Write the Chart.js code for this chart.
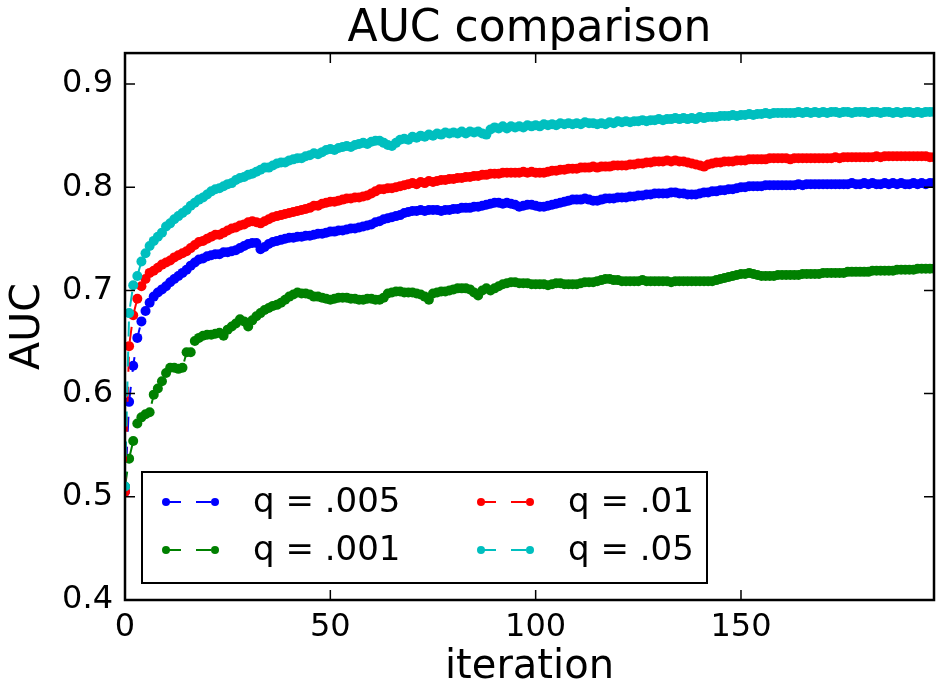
<!DOCTYPE html>
<html>
<head>
<meta charset="utf-8">
<script src="https://cdn.jsdelivr.net/npm/chart.js@4.4.1/dist/chart.umd.min.js"></script>
<style>
  html, body { margin: 0; padding: 0; background: #fff; }
  #wrap { width: 939px; height: 693px; }
</style>
</head>
<body>
<div id="wrap"><canvas id="myChart"></canvas></div>
<script>
// AUC per iteration (iterations 0..197)
var labels = ['q = .005', 'q = .001', 'q = .01', 'q = .05'];
var colors = ['#0000ff', '#008000', '#ff0000', '#00bfbf'];
var xTicks = [0, 50, 100, 150];
var yTicks = [0.4, 0.5, 0.6, 0.7, 0.8, 0.9];

var auc_005 = [
  0.505,0.592,0.627,0.654,0.670,0.680,0.688,0.694,0.698,0.701,
  0.704,0.708,0.711,0.714,0.717,0.720,0.724,0.727,0.730,0.731,
  0.733,0.734,0.735,0.735,0.737,0.737,0.738,0.739,0.741,0.743,
  0.745,0.746,0.746,0.740,0.742,0.745,0.747,0.748,0.749,0.750,
  0.751,0.751,0.752,0.752,0.753,0.753,0.754,0.755,0.755,0.756,
  0.757,0.757,0.758,0.758,0.759,0.760,0.760,0.761,0.762,0.763,
  0.764,0.766,0.767,0.769,0.770,0.771,0.772,0.773,0.775,0.776,
  0.777,0.777,0.778,0.777,0.778,0.778,0.778,0.777,0.778,0.778,
  0.779,0.779,0.780,0.780,0.780,0.781,0.781,0.782,0.783,0.784,
  0.785,0.785,0.784,0.785,0.784,0.783,0.781,0.782,0.783,0.783,
  0.782,0.781,0.781,0.782,0.783,0.784,0.785,0.786,0.787,0.788,
  0.788,0.788,0.789,0.788,0.787,0.787,0.788,0.789,0.789,0.789,
  0.790,0.790,0.790,0.791,0.791,0.792,0.792,0.793,0.793,0.794,
  0.794,0.794,0.794,0.795,0.795,0.794,0.794,0.793,0.793,0.793,
  0.794,0.795,0.795,0.796,0.796,0.797,0.797,0.798,0.798,0.799,
  0.800,0.800,0.801,0.801,0.801,0.801,0.802,0.802,0.802,0.802,
  0.802,0.802,0.802,0.802,0.803,0.802,0.803,0.803,0.803,0.803,
  0.803,0.803,0.803,0.803,0.803,0.803,0.803,0.804,0.803,0.803,
  0.804,0.803,0.804,0.803,0.803,0.804,0.803,0.804,0.803,0.804,
  0.803,0.803,0.804,0.803,0.804,0.803,0.804,0.804
];

var auc_001 = [
  0.510,0.537,0.554,0.571,0.577,0.580,0.582,0.599,0.605,0.612,
  0.620,0.625,0.625,0.624,0.625,0.640,0.640,0.651,0.654,0.656,
  0.657,0.657,0.658,0.659,0.656,0.662,0.665,0.668,0.672,0.670,
  0.665,0.671,0.675,0.678,0.681,0.683,0.685,0.686,0.688,0.691,
  0.694,0.696,0.698,0.697,0.697,0.696,0.694,0.694,0.693,0.692,
  0.691,0.692,0.693,0.693,0.693,0.692,0.692,0.691,0.691,0.692,
  0.692,0.691,0.691,0.693,0.697,0.698,0.699,0.699,0.698,0.698,
  0.698,0.697,0.696,0.694,0.691,0.697,0.698,0.699,0.699,0.700,
  0.701,0.702,0.702,0.702,0.701,0.698,0.695,0.700,0.702,0.700,
  0.702,0.704,0.706,0.707,0.708,0.708,0.707,0.707,0.707,0.706,
  0.706,0.706,0.706,0.705,0.706,0.707,0.707,0.706,0.706,0.706,
  0.706,0.707,0.708,0.708,0.708,0.709,0.710,0.711,0.711,0.710,
  0.710,0.709,0.709,0.709,0.709,0.709,0.710,0.709,0.709,0.709,
  0.709,0.709,0.709,0.708,0.709,0.709,0.709,0.709,0.709,0.709,
  0.709,0.709,0.709,0.709,0.710,0.711,0.712,0.713,0.714,0.715,
  0.716,0.716,0.717,0.716,0.715,0.714,0.714,0.714,0.714,0.715,
  0.715,0.715,0.715,0.715,0.715,0.716,0.716,0.716,0.716,0.716,
  0.717,0.717,0.717,0.717,0.717,0.717,0.718,0.718,0.718,0.718,
  0.718,0.718,0.719,0.719,0.719,0.719,0.719,0.719,0.720,0.720,
  0.720,0.720,0.720,0.721,0.721,0.721,0.721,0.721
];

var auc_01 = [
  0.505,0.646,0.676,0.692,0.704,0.711,0.717,0.719,0.722,0.725,
  0.727,0.729,0.732,0.734,0.736,0.738,0.741,0.744,0.747,0.748,
  0.750,0.752,0.754,0.754,0.756,0.758,0.760,0.761,0.763,0.764,
  0.766,0.767,0.766,0.765,0.767,0.769,0.771,0.772,0.773,0.774,
  0.775,0.776,0.777,0.778,0.779,0.780,0.782,0.782,0.784,0.785,
  0.786,0.786,0.787,0.788,0.789,0.789,0.790,0.790,0.791,0.792,
  0.794,0.796,0.798,0.798,0.799,0.799,0.800,0.801,0.802,0.803,
  0.804,0.803,0.805,0.804,0.806,0.805,0.806,0.807,0.807,0.808,
  0.808,0.809,0.809,0.810,0.810,0.811,0.811,0.812,0.812,0.813,
  0.813,0.813,0.814,0.814,0.814,0.814,0.814,0.815,0.814,0.815,
  0.814,0.814,0.814,0.815,0.816,0.816,0.817,0.817,0.818,0.818,
  0.818,0.819,0.819,0.819,0.820,0.819,0.820,0.820,0.820,0.821,
  0.821,0.821,0.821,0.822,0.822,0.823,0.823,0.824,0.824,0.825,
  0.825,0.825,0.826,0.825,0.826,0.825,0.825,0.824,0.823,0.822,
  0.821,0.820,0.822,0.823,0.824,0.824,0.825,0.825,0.825,0.826,
  0.826,0.826,0.827,0.827,0.827,0.827,0.827,0.828,0.828,0.828,
  0.828,0.828,0.827,0.828,0.828,0.828,0.828,0.828,0.828,0.828,
  0.828,0.828,0.828,0.829,0.828,0.829,0.829,0.829,0.829,0.829,
  0.829,0.829,0.829,0.830,0.829,0.830,0.830,0.830,0.830,0.830,
  0.830,0.830,0.830,0.830,0.830,0.830,0.829,0.829
];

var auc_05 = [
  0.510,0.678,0.705,0.714,0.728,0.736,0.743,0.748,0.752,0.756,
  0.762,0.765,0.769,0.772,0.775,0.778,0.782,0.785,0.788,0.790,
  0.793,0.796,0.798,0.799,0.801,0.803,0.804,0.807,0.809,0.810,
  0.812,0.813,0.815,0.817,0.819,0.819,0.821,0.823,0.824,0.824,
  0.826,0.827,0.828,0.828,0.830,0.831,0.833,0.832,0.834,0.836,
  0.837,0.836,0.838,0.839,0.840,0.839,0.841,0.842,0.843,0.842,
  0.844,0.845,0.845,0.843,0.841,0.840,0.843,0.846,0.847,0.846,
  0.849,0.848,0.850,0.849,0.851,0.850,0.852,0.851,0.853,0.852,
  0.853,0.852,0.854,0.852,0.854,0.853,0.854,0.852,0.851,0.856,
  0.858,0.857,0.859,0.857,0.859,0.858,0.859,0.858,0.860,0.859,
  0.860,0.859,0.861,0.860,0.861,0.860,0.862,0.861,0.862,0.861,
  0.862,0.861,0.863,0.862,0.862,0.861,0.862,0.861,0.863,0.862,
  0.864,0.863,0.864,0.863,0.864,0.864,0.865,0.864,0.865,0.865,
  0.866,0.865,0.866,0.866,0.867,0.866,0.867,0.866,0.867,0.866,
  0.868,0.867,0.868,0.868,0.868,0.869,0.869,0.869,0.870,0.869,
  0.870,0.870,0.871,0.870,0.871,0.871,0.872,0.871,0.872,0.872,
  0.872,0.872,0.872,0.872,0.873,0.872,0.873,0.872,0.873,0.872,
  0.873,0.872,0.873,0.873,0.872,0.873,0.873,0.872,0.873,0.873,
  0.873,0.872,0.873,0.873,0.872,0.873,0.873,0.872,0.873,0.872,
  0.873,0.873,0.872,0.873,0.872,0.873,0.873,0.873
];

var series = [auc_005, auc_001, auc_01, auc_05];

function toPoints(arr) {
  return arr.map(function (v, i) { return { x: i, y: v }; });
}

var FONT = '"DejaVu Sans", "Liberation Sans", sans-serif';

// spines + inward ticks on all four sides, like matplotlib classic
var framePlugin = {
  id: 'frame',
  afterDatasetsDraw: function (chart) {
    var ctx = chart.ctx, a = chart.chartArea;
    var xs = chart.scales.x, ys = chart.scales.y;
    ctx.save();
    ctx.strokeStyle = '#000';
    ctx.lineWidth = 1.5;
    ctx.beginPath();
    xTicks.forEach(function (t) {
      var px = xs.getPixelForValue(t);
      ctx.moveTo(px, a.bottom); ctx.lineTo(px, a.bottom - 10);
      ctx.moveTo(px, a.top); ctx.lineTo(px, a.top + 10);
    });
    yTicks.forEach(function (t) {
      var py = ys.getPixelForValue(t);
      ctx.moveTo(a.left, py); ctx.lineTo(a.left + 10, py);
      ctx.moveTo(a.right, py); ctx.lineTo(a.right - 10, py);
    });
    ctx.stroke();
    ctx.lineWidth = 2.5;
    ctx.strokeRect(a.left, a.top, a.right - a.left, a.bottom - a.top);
    ctx.restore();
  },
  afterDraw: function (chart) {
    // legend box in the lower left of the axes, two columns
    var ctx = chart.ctx, a = chart.chartArea;
    var bx = a.left + 17, by = 472, bw = 565, bh = 111;
    ctx.save();
    ctx.fillStyle = '#fff';
    ctx.fillRect(bx, by, bw, bh);
    ctx.strokeStyle = '#000';
    ctx.lineWidth = 2;
    ctx.strokeRect(bx, by, bw, bh);
    var cols = [24, 339], rows = [30, 78];
    chart.data.datasets.forEach(function (ds, i) {
      var x0 = bx + cols[Math.floor(i / 2)];
      var y0 = by + rows[i % 2];
      var x1 = x0 + 49;
      ctx.strokeStyle = ds.borderColor;
      ctx.lineWidth = 2;
      ctx.setLineDash([15, 15]);
      ctx.beginPath(); ctx.moveTo(x0, y0); ctx.lineTo(x1, y0); ctx.stroke();
      ctx.setLineDash([]);
      ctx.fillStyle = ds.borderColor;
      [x0, x1].forEach(function (px) {
        ctx.beginPath(); ctx.arc(px, y0, 4, 0, Math.PI * 2); ctx.fill();
      });
      ctx.fillStyle = '#000';
      ctx.font = '34px ' + FONT;
      ctx.textBaseline = 'middle';
      ctx.textAlign = 'left';
      ctx.fillText(ds.label, x0 + 87, y0 + 1);
    });
    ctx.restore();
  }
};

var ctx = document.getElementById('myChart');
var myChart = new Chart(ctx, {
  type: 'line',
  data: {
    datasets: series.map(function (arr, i) {
      return {
        label: labels[i],
        data: toPoints(arr),
        borderColor: colors[i],
        backgroundColor: colors[i],
        pointBackgroundColor: colors[i],
        pointBorderWidth: 0,
        pointRadius: 5,
        borderWidth: 2,
        borderDash: [15, 15],
        fill: false,
        tension: 0,
        clip: 0,
        order: series.length - i
      };
    })
  },
  options: {
    responsive: true,
    maintainAspectRatio: false,
    animation: false,
    layout: { padding: { left: 0, right: 1, top: 0, bottom: 0 } },
    plugins: {
      legend: { display: false },
      tooltip: { enabled: false },
      title: {
        display: true,
        fullSize: false,
        text: 'AUC comparison',
        color: '#000',
        font: { family: FONT, size: 44, weight: 'normal', lineHeight: 1.07 },
        padding: { top: 6, bottom: 0 }
      }
    },
    scales: {
      x: {
        type: 'linear',
        min: 0,
        max: 197,
        grid: { display: false, drawTicks: false },
        border: { display: false },
        ticks: {
          stepSize: 50,
          includeBounds: false,
          autoSkip: false,
          maxRotation: 0,
          padding: 8,
          color: '#000',
          font: { family: FONT, size: 32 },
          callback: function (v) { return xTicks.indexOf(v) >= 0 ? String(v) : ''; }
        },
        title: {
          display: true,
          text: 'iteration',
          color: '#000',
          font: { family: FONT, size: 40 },
          padding: { top: 0, bottom: 1 }
        },
        afterFit: function (s) { s.height = 93; }
      },
      y: {
        min: 0.4,
        max: 0.93,
        grid: { display: false, drawTicks: false },
        border: { display: false },
        ticks: {
          stepSize: 0.1,
          includeBounds: false,
          padding: 12,
          color: '#000',
          font: { family: FONT, size: 32 },
          callback: function (v) { return v.toFixed(1); }
        },
        title: {
          display: true,
          text: 'AUC',
          color: '#000',
          font: { family: FONT, size: 41 },
          padding: { top: 4, bottom: 0 }
        },
        afterFit: function (s) { s.width = 125; }
      }
    }
  },
  plugins: [framePlugin]
});
</script>
</body>
</html>
